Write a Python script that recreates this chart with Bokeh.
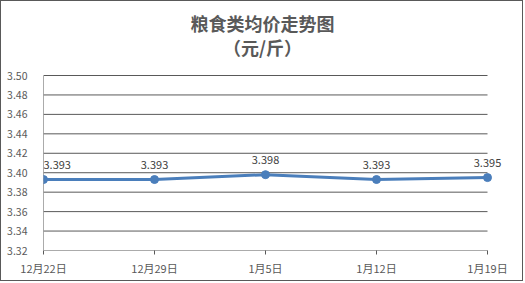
from bokeh.plotting import figure
from bokeh.models import ColumnDataSource, Range1d, FixedTicker, Label, NumeralTickFormatter
from bokeh.embed import file_html
from bokeh.resources import INLINE

dates = ["12月22日", "12月29日", "1月5日", "1月12日", "1月19日"]
prices = [3.393, 3.393, 3.398, 3.393, 3.395]
y_ticks = [3.32, 3.34, 3.36, 3.38, 3.40, 3.42, 3.44, 3.46, 3.48, 3.50]
title_main = "粮食类均价走势图"
title_unit = "（元/斤）"

GRAY = "#595959"
BLUE = "#4a7ebb"
FONT = "Noto Sans CJK SC"

W, H = 523, 281
LEFT, BOTTOM = 42, 32          # frame borders
PLOT_W, PLOT_H = 444, 175      # pixel extent of the category span / value span
n = len(dates)
idx = list(range(n))
x_end = (n - 1) * (W - LEFT) / PLOT_W
y0, y1 = y_ticks[0], y_ticks[-1]
y_end = y0 + (y1 - y0) * (H - BOTTOM) / PLOT_H

src = ColumnDataSource(dict(x=idx, y=prices))
grid = ColumnDataSource(dict(x0=[0] * len(y_ticks), x1=[n - 1] * len(y_ticks), y=y_ticks))

p = figure(width=W, height=H, output_backend="svg", toolbar_location=None, title=None,
           x_range=Range1d(0, x_end), y_range=Range1d(y0, y_end),
           min_border_left=LEFT, min_border_right=0, min_border_top=0, min_border_bottom=BOTTOM)
p.styles = {"border": f"1px solid {GRAY}"}
p.outline_line_color = None
p.background_fill_color = "white"
p.border_fill_color = "white"
p.xgrid.visible = False
p.ygrid.visible = False

p.yaxis.ticker = FixedTicker(ticks=y_ticks)
p.yaxis.formatter = NumeralTickFormatter(format="0.00")
p.yaxis.axis_line_color = None
p.yaxis.major_tick_line_color = None
p.yaxis.minor_tick_line_color = None
p.yaxis.major_label_text_color = GRAY
p.yaxis.major_label_text_font = FONT
p.yaxis.major_label_text_font_size = "10.5px"
p.yaxis.major_label_standoff = 10

p.xaxis.ticker = FixedTicker(ticks=idx)
p.xaxis.major_label_overrides = {i: d for i, d in zip(idx, dates)}
p.xaxis.axis_line_color = None
p.xaxis.major_tick_line_color = GRAY
p.xaxis.major_tick_in = 0
p.xaxis.major_tick_out = 4
p.xaxis.minor_tick_line_color = None
p.xaxis.major_label_text_color = GRAY
p.xaxis.major_label_text_font = FONT
p.xaxis.major_label_text_font_size = "11px"
p.xaxis.major_label_standoff = 5

# horizontal gridlines (incl. category axis line) and value axis line
p.segment(x0="x0", x1="x1", y0="y", y1="y", source=grid, line_color=GRAY, line_width=1)
p.segment(x0=[0], x1=[0], y0=[y0], y1=[y1], line_color=GRAY, line_width=1)

p.line("x", "y", source=src, line_color=BLUE, line_width=3)
p.scatter("x", "y", source=src, size=8, fill_color=BLUE, line_color=BLUE)

for i, v in zip(idx, prices):
    p.add_layout(Label(x=i, y=v, text=f"{v:.3f}",
                       text_align="left" if i == 0 else "center",
                       text_baseline="bottom", y_offset=11, text_color="#404040",
                       text_font=FONT, text_font_size="11px"))

p.add_layout(Label(x=219, y=228, x_units="screen", y_units="screen", text=title_main,
                   text_align="center", text_baseline="middle", text_font=FONT,
                   text_font_size="18px", text_font_style="bold", text_color=GRAY))
p.add_layout(Label(x=219, y=204, x_units="screen", y_units="screen", text=title_unit,
                   text_align="center", text_baseline="middle", text_font=FONT,
                   text_font_size="18px", text_font_style="bold", text_color=GRAY))

open("out.html", "w").write(file_html(p, INLINE))
